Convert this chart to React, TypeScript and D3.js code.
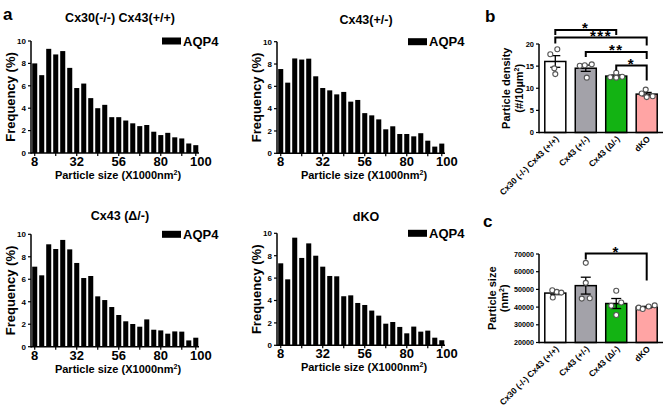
import React from 'react';
import * as d3 from 'd3';

const FONT = '"Liberation Sans", Arial, Helvetica, sans-serif';

// ---------- Panel a: histograms ----------
const BINS = [8, 12, 16, 20, 24, 28, 32, 36, 40, 44, 48, 52, 56, 60, 64, 68, 72, 76, 80, 84, 88, 92, 96, 100];
const BIN_LABELS = [8, 32, 56, 80, 100];
const BIN_TICKS = [8, 20, 32, 44, 56, 68, 80, 92, 100];
const FREQ_TICKS = [0, 2, 4, 6, 8, 10];

const histTitles = ['Cx30(-/-) Cx43(+/+)', 'Cx43(+/-)', 'Cx43 (\u0394/-)', 'dKO'];
const freqCx30KO = [8.0, 6.95, 9.3, 8.8, 9.1, 7.6, 5.8, 6.2, 4.9, 4.0, 4.3, 3.2, 3.2, 2.9, 2.65, 2.4, 2.5, 1.9, 1.6, 1.8, 1.4, 1.3, 0.85, 0.7];
const freqCx43Het = [7.55, 6.33, 8.5, 8.4, 8.48, 6.9, 5.85, 5.64, 5.28, 5.5, 4.63, 4.78, 3.6, 3.4, 3.04, 2.15, 2.42, 1.73, 1.73, 1.52, 1.8, 1.13, 0.6, 0.87];
const freqCx43Delta = [7.12, 6.35, 9.11, 8.69, 9.5, 8.66, 7.45, 6.11, 6.29, 4.48, 4.15, 3.53, 2.82, 2.26, 2.02, 1.78, 2.43, 1.51, 1.45, 1.16, 1.36, 1.34, 0.56, 0.8];
const freqDKO = [7.32, 5.89, 9.61, 7.8, 9.1, 8.0, 7.02, 6.19, 6.16, 4.38, 4.46, 3.78, 3.6, 3.1, 2.65, 1.93, 2.08, 1.64, 1.07, 1.67, 1.22, 1.31, 0.68, 0.45];
const LEGEND_LABEL = 'AQP4';

// ---------- Panels b, c ----------
const GROUPS = ['Cx30 (-/-) Cx43 (+/+)', 'Cx43 (+/-)', 'Cx43 (\u0394/-)', 'dKO'];
const GROUP_COLORS = ['#ffffff', '#a3a2a9', '#13b313', '#ffa4a4'];

const densityDots = [
  [18.8, 17.7, 14.5, 13.2],
  [15.1, 15.2, 15.4, 12.4],
  [13.5, 12.5, 12.4, 12.6],
  [9.7, 8.8, 8.0, 8.2],
];
const DENSITY_TICKS = [0, 5, 10, 15, 20];

const sizeDots = [
  [49500, 48600, 48200, 45400],
  [65000, 53700, 44800, 45000],
  [49200, 42600, 40800, 35500],
  [39700, 38900, 40300, 41000],
];
const SIZE_TICKS = [20000, 30000, 40000, 50000, 60000, 70000];

const densitySig = [
  { a: 0, b: 2, label: '*' },
  { a: 0, b: 3, label: '***' },
  { a: 1, b: 3, label: '**' },
  { a: 2, b: 3, label: '*' },
];
const sizeSig = [{ a: 1, b: 3, label: '*' }];

type HistProps = { x0: number; y0: number; y10: number; title: string; titleY: number; values: number[] };

function Histogram({ x0, y0, y10, title, titleY, values }: HistProps) {
  const x = d3.scaleBand<number>().domain(BINS).range([x0 + 0.5, x0 + 168]).paddingInner(0.28).paddingOuter(0.1);
  const y = d3.scaleLinear().domain([0, 10]).range([y0, y10]);
  const cx = (v: number) => (x(v) as number) + x.bandwidth() / 2;
  return (
    <g>
      <text x={x0 + 89} y={titleY} textAnchor="middle" fontSize={12.5}>{title}</text>
      {values.map((v, i) => (
        <rect key={i} x={x(BINS[i])} y={y(v)} width={x.bandwidth()} height={y0 - y(v)} fill="#000" />
      ))}
      <line x1={x0} x2={x0} y1={y0 + 0.75} y2={y10} stroke="#000" strokeWidth={1.5} />
      <line x1={x0} x2={x0 + 168} y1={y0} y2={y0} stroke="#000" strokeWidth={1.5} />
      {FREQ_TICKS.map((t) => (
        <g key={t}>
          <line x1={x0 - 3} x2={x0} y1={y(t)} y2={y(t)} stroke="#000" strokeWidth={1.2} />
          <text x={x0 - 5} y={y(t)} dy="0.35em" textAnchor="end" fontSize={8}>{t}</text>
        </g>
      ))}
      {BIN_TICKS.map((b) => (
        <line key={b} x1={cx(b)} x2={cx(b)} y1={y0} y2={y0 + 3} stroke="#000" strokeWidth={1.2} />
      ))}
      {BIN_LABELS.map((b, i) => (
        <text key={b} x={cx(b) + (i === BIN_LABELS.length - 1 ? 5 : 0)} y={y0 + 13} textAnchor="middle" fontSize={13}>{b}</text>
      ))}
      <text x={x0 + 87} y={y0 + 26} textAnchor="middle" fontSize={11}>
        Particle size (X1000nm<tspan dy={-4} fontSize={7}>2</tspan><tspan dy={4}>)</tspan>
      </text>
      <text transform={`translate(${x0 - 16},${(y0 + y10) / 2}) rotate(-90)`} textAnchor="middle" fontSize={13}>Frequency (%)</text>
      <rect x={x0 + 131} y={y10 - 3.5} width={19} height={7} fill="#000" />
      <text x={x0 + 152} y={y10 + 4.6} fontSize={13}>{LEGEND_LABEL}</text>
    </g>
  );
}

type SigLayout = { hy: number; dl: number; dr: number };
type BarProps = {
  x0: number; y0: number; yTop: number; domain: [number, number]; ticks: number[];
  dots: number[][]; jitter: number[][]; sig: { a: number; b: number; label: string }[]; sigLayout: SigLayout[];
  titleLines: React.ReactNode[]; titleX: number[]; tickFont: number;
};

function BarPanel({ x0, y0, yTop, domain, ticks, dots, jitter, sig, sigLayout, titleLines, titleX, tickFont }: BarProps) {
  const x = d3.scaleBand<string>().domain(GROUPS).range([x0, x0 + 124]).paddingInner(0.31).paddingOuter(0.19);
  const y = d3.scaleLinear().domain(domain).range([y0, yTop]);
  const cx = (i: number) => (x(GROUPS[i]) as number) + x.bandwidth() / 2;
  const stats = dots.map((d) => {
    const m = d3.mean(d) as number;
    const sem = (d3.deviation(d) as number) / Math.sqrt(d.length);
    return { m, sem };
  });
  const midY = (y0 + yTop) / 2;
  return (
    <g>
      {GROUPS.map((g, i) => (
        <rect key={g} x={x(g)} y={y(stats[i].m)} width={x.bandwidth()} height={y0 - y(stats[i].m)}
          fill={GROUP_COLORS[i]} stroke="#000" strokeWidth={1.5} />
      ))}
      {GROUPS.map((g, i) => {
        const c = cx(i);
        const t = y(stats[i].m + stats[i].sem);
        const b = y(Math.max(domain[0], stats[i].m - stats[i].sem));
        return (
          <g key={g} stroke="#000" strokeWidth={1.3}>
            <line x1={c} x2={c} y1={t} y2={b} />
            <line x1={c - 5} x2={c + 5} y1={t} y2={t} />
            <line x1={c - 5} x2={c + 5} y1={b} y2={b} />
          </g>
        );
      })}
      {dots.map((d, i) => d.map((v, j) => (
        <circle key={`${i}-${j}`} cx={cx(i) + jitter[i][j]} cy={y(v)} r={2.5} fill="#fff" stroke="#555" strokeWidth={1.1} />
      )))}
      <line x1={x0} x2={x0} y1={y0 + 0.75} y2={yTop} stroke="#000" strokeWidth={1.5} />
      <line x1={x0} x2={x0 + 124} y1={y0} y2={y0} stroke="#000" strokeWidth={1.5} />
      {ticks.map((t) => (
        <g key={t}>
          <line x1={x0 - 3} x2={x0} y1={y(t)} y2={y(t)} stroke="#000" strokeWidth={1.2} />
          <text x={x0 - 5} y={y(t)} dy="0.35em" textAnchor="end" fontSize={tickFont}>{t}</text>
        </g>
      ))}
      {GROUPS.map((g, i) => (
        <text key={g} transform={`translate(${cx(i) + 4},${y0 + 7}) rotate(-45)`} textAnchor="end" fontSize={8.5}>{g}</text>
      ))}
      {titleLines.map((ln, k) => (
        <text key={k} transform={`translate(${titleX[k]},${midY}) rotate(-90)`} textAnchor="middle" fontSize={11}>{ln}</text>
      ))}
      {sig.map((s, k) => {
        const L = sigLayout[k];
        const x1 = cx(s.a), x2 = cx(s.b);
        return (
          <g key={k}>
            <path d={`M${x1},${L.hy + L.dl}V${L.hy}H${x2}V${L.hy + L.dr}`} fill="none" stroke="#000" strokeWidth={2} />
            <text x={(x1 + x2) / 2} y={L.hy + 3} textAnchor="middle" fontSize={15} letterSpacing={1.5}>{s.label}</text>
          </g>
        );
      })}
    </g>
  );
}

export default function App() {
  return (
    <svg width={668} height={407} style={{ position: 'absolute', left: 0, top: 0, background: '#fff' }}
      fontFamily={FONT} fontWeight="bold">
      <text x={3} y={20} fontSize={17}>a</text>
      <text x={485} y={22} fontSize={17}>b</text>
      <text x={483} y={227} fontSize={17}>c</text>
      <Histogram x0={31} y0={153} y10={41} title={histTitles[0]} titleY={21.5} values={freqCx30KO} />
      <Histogram x0={277} y0={153.3} y10={41.7} title={histTitles[1]} titleY={24} values={freqCx43Het} />
      <Histogram x0={31} y0={346.7} y10={234.3} title={histTitles[2]} titleY={220} values={freqCx43Delta} />
      <Histogram x0={277} y0={345.3} y10={233.3} title={histTitles[3]} titleY={220.5} values={freqDKO} />
      <BarPanel
        x0={539} y0={132.5} yTop={44} domain={[0, 20]} ticks={DENSITY_TICKS} dots={densityDots}
        jitter={[[2, -5, -1, 0], [-6, -1, 6, 1], [0, -6, 0, 6], [-1, -5, 0, 6]]}
        sig={densitySig}
        sigLayout={[{ hy: 30, dl: 5, dr: 5 }, { hy: 37.5, dl: 6, dr: 8 }, { hy: 52, dl: 5, dr: 7 }, { hy: 65.5, dl: 5, dr: 15 }]}
        titleLines={['Particle density', <>(#/10µm<tspan dy={-4} fontSize={7}>2</tspan><tspan dy={4}>)</tspan></>]}
        titleX={[510, 523]} tickFont={7.5}
      />
      <BarPanel
        x0={539} y0={342.5} yTop={254} domain={[20000, 70000]} ticks={SIZE_TICKS} dots={sizeDots}
        jitter={[[-3, 1.5, 6, -2.5], [0, 0, -4, 4], [0, 5, -5, 0], [-8, -4, 2, 8]]}
        sig={sizeSig}
        sigLayout={[{ hy: 253.5, dl: 6, dr: 27 }]}
        titleLines={['Particle size', <>(nm<tspan dy={-4} fontSize={7}>2</tspan><tspan dy={4}>)</tspan></>]}
        titleX={[496, 508]} tickFont={7.2}
      />
    </svg>
  );
}
